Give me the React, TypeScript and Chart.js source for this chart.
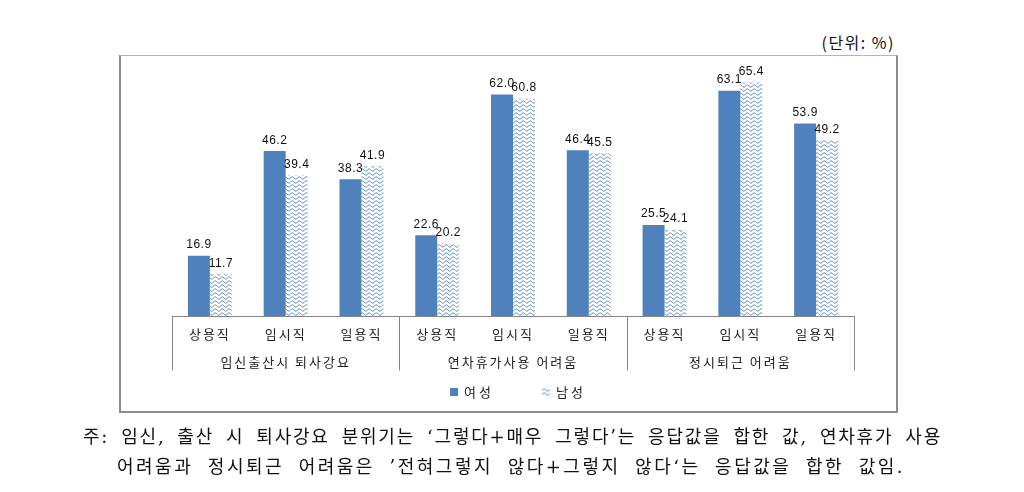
import React, { useEffect, useRef } from "react";
import { Chart, registerables } from "chart.js";
Chart.register(...registerables);

const categories = ["상용직", "임시직", "일용직", "상용직", "임시직", "일용직", "상용직", "임시직", "일용직"];
const groups = ["임신출산시 퇴사강요", "연차휴가사용 어려움", "정시퇴근 어려움"];
const female = [16.9, 46.2, 38.3, 22.6, 62.0, 46.4, 25.5, 63.1, 53.9];
const male = [11.7, 39.4, 41.9, 20.2, 60.8, 45.5, 24.1, 65.4, 49.2];
const seriesNames = ["여성", "남성"];
const unitLabel = "(단위: %)";
const noteLines = [
  "주: 임신, 출산 시 퇴사강요 분위기는 ‘그렇다+매우 그렇다’는 응답값을 합한 값, 연차휴가 사용",
  "어려움과 정시퇴근 어려움은 ’전혀그렇지 않다+그렇지 않다‘는 응답값을 합한 값임.",
];

const KFONT = "'Noto Sans CJK KR', 'Noto Sans', sans-serif";
const BLUE = "#4f81bd";

function makeWave(ctx: CanvasRenderingContext2D) {
  const c = document.createElement("canvas");
  c.width = 7;
  c.height = 4;
  const g = c.getContext("2d")!;
  g.fillStyle = "#ffffff";
  g.fillRect(0, 0, 7, 4);
  g.strokeStyle = BLUE;
  g.lineWidth = 1;
  g.beginPath();
  for (let x = -1; x <= 8; x += 0.5) {
    const y = 2 + 1.1 * Math.sin((x / 7) * 2 * Math.PI);
    if (x === -1) g.moveTo(x, y);
    else g.lineTo(x, y);
  }
  g.stroke();
  return ctx.createPattern(c, "repeat")!;
}

const spacingPlugin = {
  id: "spacing",
  beforeDraw(chart: any) {
    chart.ctx.letterSpacing = "2px";
  },
};

const labelPlugin = {
  id: "valueLabels",
  afterDatasetsDraw(chart: any) {
    const ctx = chart.ctx;
    ctx.save();
    ctx.font = "12px 'Liberation Sans', Arial, sans-serif";
    ctx.letterSpacing = "0.5px";
    ctx.fillStyle = "#111";
    ctx.textAlign = "center";
    ctx.textBaseline = "alphabetic";
    chart.data.datasets.forEach((ds: any, i: number) => {
      chart.getDatasetMeta(i).data.forEach((el: any, j: number) => {
        ctx.fillText(Number(ds.data[j]).toFixed(1), el.x, el.y - 7.5);
      });
    });
    ctx.restore();
  },
};

const sepPlugin = {
  id: "separators",
  afterDraw(chart: any) {
    const x = chart.scales.x;
    const ctx = chart.ctx;
    const n = categories.length;
    const step = (x.right - x.left) / n;
    ctx.save();
    ctx.strokeStyle = "#868686";
    ctx.lineWidth = 1;
    for (let b = 0; b <= n; b += 3) {
      const px = Math.round(x.left + b * step) + 0.5;
      ctx.beginPath();
      ctx.moveTo(px, x.top);
      ctx.lineTo(px, 370.5);
      ctx.stroke();
    }
    ctx.restore();
  },
};

const legendPlugin = {
  id: "customLegend",
  afterDraw(chart: any) {
    const ctx = chart.ctx;
    ctx.save();
    ctx.font = `13px ${KFONT}`;
    ctx.letterSpacing = "3px";
    ctx.textBaseline = "middle";
    ctx.textAlign = "left";
    const box = 8;
    const gapBox = 6;
    const gapItem = 48;
    const items = chart.data.datasets.map((d: any) => ({
      label: d.label,
      fill: d.backgroundColor,
      w: box + gapBox + ctx.measureText(d.label).width,
    }));
    const total = items.reduce((a: number, it: any) => a + it.w, 0) + gapItem * (items.length - 1);
    let cx = 518 - total / 2;
    const cy = 392;
    items.forEach((it: any) => {
      ctx.fillStyle = it.fill;
      ctx.fillRect(cx, cy - box / 2, box, box);
      ctx.fillStyle = "#222";
      ctx.fillText(it.label, cx + box + gapBox, cy);
      cx += it.w + gapItem;
    });
    ctx.restore();
  },
};

export default function App() {
  const ref = useRef<HTMLCanvasElement>(null);
  useEffect(() => {
    const canvas = ref.current!;
    const ctx = canvas.getContext("2d")!;
    const wave = makeWave(ctx);
    const chart = new Chart(canvas, {
      type: "bar",
      data: {
        labels: categories,
        datasets: [
          { label: seriesNames[0], data: female, backgroundColor: BLUE, borderWidth: 0 },
          { label: seriesNames[1], data: male, backgroundColor: wave as any, borderWidth: 0 },
        ],
      },
      options: {
        responsive: false,
        animation: false,
        events: [],
        layout: { padding: { left: 172, right: 170, top: 66, bottom: 122 } },
        datasets: { bar: { categoryPercentage: 0.58, barPercentage: 1.0 } },
        plugins: { legend: { display: false }, tooltip: { enabled: false }, title: { display: false } },
        scales: {
          y: { display: false, min: 0, max: 70 },
          x: {
            type: "category",
            offset: true,
            grid: { display: false, drawTicks: false },
            border: { display: true, color: "#868686", width: 1 },
            ticks: { font: { family: KFONT, size: 13 }, color: "#222", padding: 10, maxRotation: 0, autoSkip: false },
            afterFit: (s: any) => {
              s.height = 26;
            },
          },
          x2: {
            type: "category",
            position: "bottom",
            labels: groups,
            offset: true,
            grid: { display: false, drawTicks: false },
            border: { display: false },
            ticks: { font: { family: KFONT, size: 13 }, color: "#222", padding: 12, maxRotation: 0, autoSkip: false },
            afterFit: (s: any) => {
              s.height = 28;
            },
          },
        },
      } as any,
      plugins: [spacingPlugin, labelPlugin, sepPlugin, legendPlugin],
    });
    return () => chart.destroy();
  }, []);

  const noteStyle: React.CSSProperties = {
    position: "absolute",
    fontFamily: "'DejaVu Serif', 'Noto Sans CJK KR', serif",
    fontSize: 18,
    lineHeight: "22px",
    color: "#111",
    textAlign: "justify",
    textAlignLast: "justify" as any,
    whiteSpace: "nowrap",
  };

  return (
    <div style={{ position: "absolute", left: 0, top: 0, width: 1024, height: 492, background: "#fff", overflow: "hidden" }}>
      <div
        style={{
          position: "absolute",
          left: 119,
          top: 55,
          width: 775,
          height: 355,
          borderLeft: "2px solid #8a8a8a",
          borderRight: "2px solid #8a8a8a",
          borderBottom: "2px solid #8a8a8a",
          borderTop: "1px solid #b5b5b5",
        }}
      />
      <div
        style={{
          position: "absolute",
          right: 1024 - 895,
          top: 30,
          fontFamily: KFONT,
          fontSize: 16,
          letterSpacing: "1.5px",
          color: "#111",
          whiteSpace: "nowrap",
        }}
      >
        {unitLabel}
      </div>
      <canvas ref={ref} width={1024} height={492} style={{ position: "absolute", left: 0, top: 0 }} />
      <div style={{ ...noteStyle, letterSpacing: "1.8px", left: 83, top: 426, width: 859 }}>{noteLines[0]}</div>
      <div style={{ ...noteStyle, letterSpacing: "2.5px", left: 117, top: 456, width: 788 }}>{noteLines[1]}</div>
    </div>
  );
}
